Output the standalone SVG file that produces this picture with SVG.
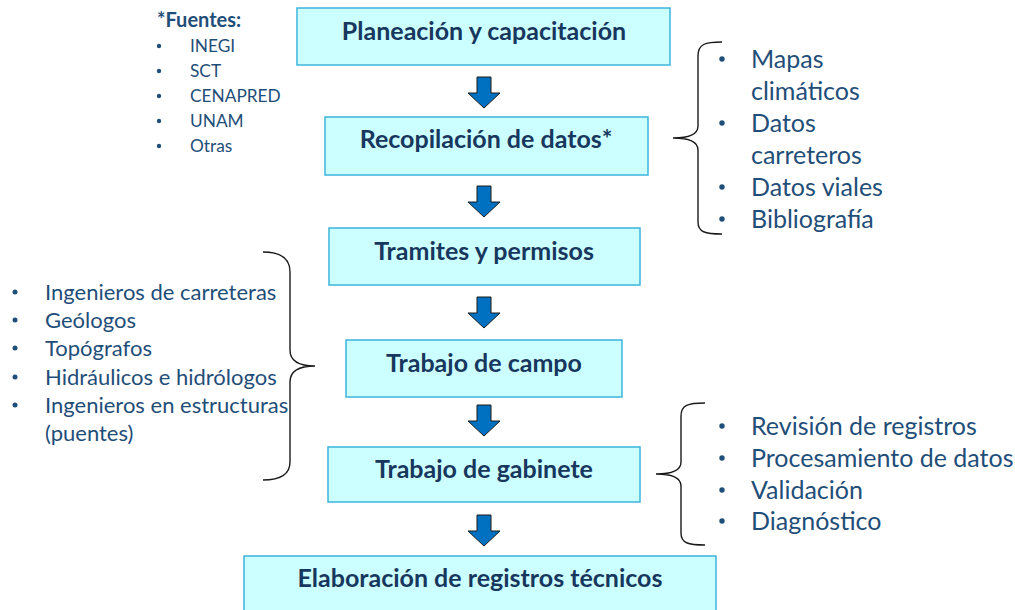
<svg xmlns="http://www.w3.org/2000/svg" width="1015" height="610" viewBox="0 0 1015 610">
<style>
.box{fill:#CCFFFF;stroke:#3CB4DC;stroke-width:1.5}
.bt{font-family:Lato,"Open Sans","Liberation Sans",sans-serif;font-weight:bold;font-size:25px;fill:#17375E;text-anchor:middle}
.arr{fill:#0070C0;stroke:#1a1a1a;stroke-width:1}
.brace{fill:none;stroke:#1a1a1a;stroke-width:1.4}
.li{font-family:Lato,"Open Sans","Liberation Sans",sans-serif;font-size:25px;fill:#1F4E79}
.ls{font-family:Lato,"Open Sans","Liberation Sans",sans-serif;font-size:22px;fill:#1F4E79}
.fs{font-family:Lato,"Open Sans","Liberation Sans",sans-serif;font-size:17.3px;fill:#1F4E79}
.fh{font-family:Lato,"Open Sans","Liberation Sans",sans-serif;font-size:20px;font-weight:bold;fill:#1F4E79}
.dot{fill:#1F4E79}
</style>
<defs>
<path id="arrow" class="arr" d="M-7,0 H7 V16 H16 L0,31 L-16,16 H-7 Z"/>
</defs>

<g id="n1"><rect class="box" x="297" y="8" width="373" height="57"/><text class="bt" x="484" y="40">Planeación y capacitación</text></g>
<g id="n2"><rect class="box" x="325" y="117" width="323" height="58"/><text class="bt" x="486" y="148">Recopilación de datos*</text></g>
<g id="n3"><rect class="box" x="329" y="228" width="311" height="57"/><text class="bt" x="484" y="260">Tramites y permisos</text></g>
<g id="n4"><rect class="box" x="346" y="340" width="276" height="57"/><text class="bt" x="484" y="372">Trabajo de campo</text></g>
<g id="n5"><rect class="box" x="328" y="447" width="312" height="55"/><text class="bt" x="484" y="478">Trabajo de gabinete</text></g>
<g id="n6"><rect class="box" x="244" y="556" width="472" height="60"/><text class="bt" x="480" y="587">Elaboración de registros técnicos</text></g>

<g id="connectors">
<use href="#arrow" x="484" y="77"/>
<use href="#arrow" x="484" y="186"/>
<use href="#arrow" x="484" y="297"/>
<use href="#arrow" x="484" y="405"/>
<use href="#arrow" x="484" y="515"/>
</g>

<g id="fuentes">
<text class="fh" x="157" y="27">*Fuentes:</text>
<circle class="dot" cx="159" cy="46" r="2.2"/><text class="fs" x="190" y="52">INEGI</text>
<circle class="dot" cx="159" cy="71" r="2.2"/><text class="fs" x="190" y="77">SCT</text>
<circle class="dot" cx="159" cy="96" r="2.2"/><text class="fs" x="190" y="102">CENAPRED</text>
<circle class="dot" cx="159" cy="121" r="2.2"/><text class="fs" x="190" y="127">UNAM</text>
<circle class="dot" cx="159" cy="146" r="2.2"/><text class="fs" x="190" y="152">Otras</text>
</g>

<g id="datos-list">
<path class="brace" d="M722,42 C705,42 698,44 698,56 L698,126 C698,134 690,138 673,138 C690,138 698,142 698,150 L698,222 C698,232 705,234 722,234"/>
<circle class="dot" cx="722" cy="59" r="2.7"/><text class="li" x="751" y="68">Mapas</text>
<text class="li" x="751" y="100">climáticos</text>
<circle class="dot" cx="722" cy="123" r="2.7"/><text class="li" x="751" y="132">Datos</text>
<text class="li" x="751" y="164">carreteros</text>
<circle class="dot" cx="722" cy="187" r="2.7"/><text class="li" x="751" y="196">Datos viales</text>
<circle class="dot" cx="722" cy="219" r="2.7"/><text class="li" x="751" y="228">Bibliografía</text>
</g>

<g id="personal-list">
<path class="brace" d="M263,252 C280,252 290,258 290,272 L290,350 C290,360 298,366 315,366 C298,366 290,372 290,382 L290,462 C290,474 280,480 263,480"/>
<circle class="dot" cx="15" cy="292" r="2.5"/><text class="ls" x="45" y="300">Ingenieros de carreteras</text>
<circle class="dot" cx="15" cy="320" r="2.5"/><text class="ls" x="45" y="328">Geólogos</text>
<circle class="dot" cx="15" cy="348" r="2.5"/><text class="ls" x="45" y="356">Topógrafos</text>
<circle class="dot" cx="15" cy="377" r="2.5"/><text class="ls" x="45" y="385">Hidráulicos e hidrólogos</text>
<circle class="dot" cx="15" cy="405" r="2.5"/><text class="ls" x="45" y="413">Ingenieros en estructuras</text>
<text class="ls" x="45" y="441">(puentes)</text>
</g>

<g id="gabinete-list">
<path class="brace" d="M705,403 C688,403 681,405 681,416 L681,462 C681,470 672,474 656,474 C672,474 681,478 681,486 L681,533 C681,543 688,545 705,545"/>
<circle class="dot" cx="722" cy="426" r="2.7"/><text class="li" x="751" y="435">Revisión de registros</text>
<circle class="dot" cx="722" cy="458" r="2.7"/><text class="li" x="751" y="467">Procesamiento de datos</text>
<circle class="dot" cx="722" cy="490" r="2.7"/><text class="li" x="751" y="499">Validación</text>
<circle class="dot" cx="722" cy="521" r="2.7"/><text class="li" x="751" y="530">Diagnóstico</text>
</g>
</svg>
